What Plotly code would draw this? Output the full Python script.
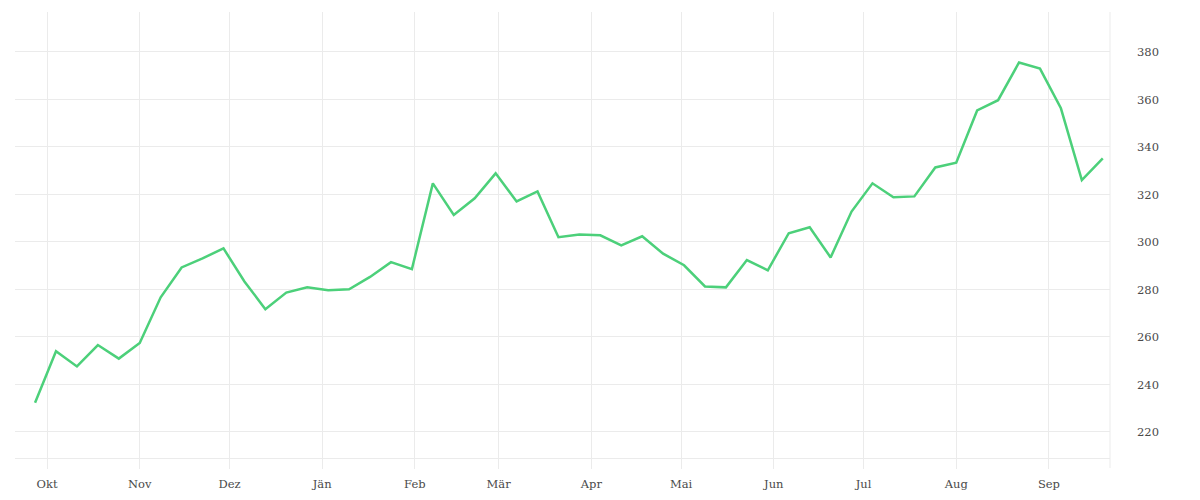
import pandas as pd
import plotly.graph_objects as go

# weekly values, Sep 2020 - Sep 2021
start_date = "2020-09-27"
values = [232.3, 254.0, 247.6, 256.6, 250.9, 257.5, 276.7, 289.3, 293.1, 297.3,
          283.4, 271.7, 278.7, 280.9, 279.7, 280.1, 285.3, 291.5, 288.6, 324.7,
          311.4, 318.4, 328.9, 317.1, 321.3, 302.0, 303.2, 302.8, 298.6, 302.4,
          295.1, 290.2, 281.3, 280.9, 292.4, 288.1, 303.7, 306.2, 293.5, 312.8,
          324.7, 318.8, 319.2, 331.4, 333.4, 355.4, 359.7, 375.6, 373.0, 356.3,
          326.1, 335.2]
dates = pd.date_range(start_date, periods=len(values), freq="7D")

month_ticks = pd.date_range("2020-10-01", "2021-09-01", freq="MS")
month_labels = ["Okt", "Nov", "Dez", "Jän", "Feb", "Mär", "Apr", "Mai",
                "Jun", "Jul", "Aug", "Sep"]

grid = "#ebebeb"
font_col = "#4a4a4a"

fig = go.Figure()
fig.add_trace(go.Scatter(x=dates, y=values, mode="lines",
                         line=dict(color="#4cd07a", width=2.5),
                         hoverinfo="x+y", showlegend=False))

# page body adds 8px, so the figure is a bit smaller than the window
fig.update_layout(
    width=1184, height=484,
    margin=dict(l=7, r=82, t=4, b=34),
    plot_bgcolor="white", paper_bgcolor="white",
    font=dict(family="DejaVu Serif, serif", size=11.5, color=font_col),
    xaxis=dict(range=["2020-09-20 07:00", "2021-09-21 10:00"],
               tickvals=month_ticks, ticktext=month_labels,
               showgrid=True, gridcolor=grid, gridwidth=1,
               ticks="outside", ticklen=10, tickcolor=grid,
               ticklabelstandoff=5, automargin=False,
               showline=True, linecolor=grid, linewidth=1,
               zeroline=False),
    yaxis=dict(side="right", range=[209.05, 396.84],
               tickvals=[220, 240, 260, 280, 300, 320, 340, 360, 380],
               showgrid=True, gridcolor=grid, gridwidth=1,
               ticks="", ticklabelstandoff=26, automargin=False,
               zeroline=False),
    # frame line on the right edge of the plot
    shapes=[dict(type="line", xref="paper", yref="paper",
                 x0=1, x1=1, y0=-10 / 446, y1=1,
                 line=dict(color=grid, width=1))],
)

fig.write_html("out.html")
